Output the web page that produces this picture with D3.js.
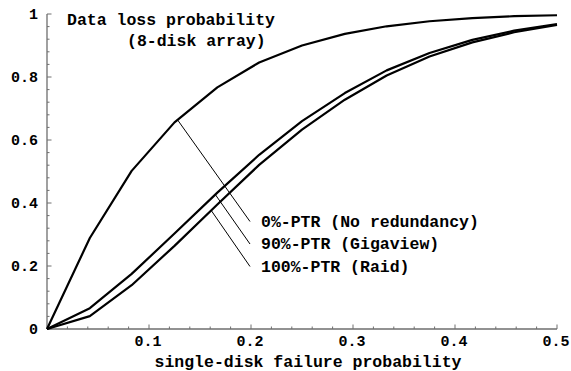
<!DOCTYPE html>
<html>
<head>
<meta charset="utf-8">
<script src="https://cdn.jsdelivr.net/npm/d3@7"></script>
<style>
  body { margin: 0; background: #fff; }
  svg text { font-family: "Liberation Mono", "Courier New", monospace; font-weight: bold; fill: #000; }
</style>
</head>
<body>
<script>
// single-disk failure probability (sample points)
var pValues = [0, 0.042, 0.083, 0.125, 0.167, 0.208, 0.25, 0.292, 0.333, 0.375, 0.417, 0.458, 0.5];

// data loss probability per curve
var noRedundancy = [0, 0.289, 0.502, 0.656, 0.767, 0.846, 0.900, 0.937, 0.961, 0.977, 0.987, 0.993, 0.996];
var gigaview     = [0, 0.066, 0.175, 0.303, 0.433, 0.553, 0.660, 0.749, 0.821, 0.876, 0.918, 0.947, 0.968];
var raid         = [0, 0.041, 0.139, 0.264, 0.395, 0.521, 0.633, 0.728, 0.805, 0.865, 0.910, 0.942, 0.965];

var seriesNames = ["0%-PTR (No redundancy)", "90%-PTR (Gigaview)", "100%-PTR (Raid)"];
// where each leader line touches its curve (x value)
var leaderAt = [0.128, 0.165, 0.161];

var xTicks = [0.1, 0.2, 0.3, 0.4, 0.5];
var yTicks = [0, 0.2, 0.4, 0.6, 0.8, 1];

var W = 571, H = 371;

var svg = d3.select("body").append("svg")
  .attr("width", W)
  .attr("height", H);

var x = d3.scaleLinear().domain([0, 0.5]).range([47, 557]);
var y = d3.scaleLinear().domain([0, 1]).range([329, 14]);

var axisColor = "#6e6e6e";

// x axis, ticks pointing up into the plot
var xMinor = d3.range(0, 0.5001, 0.02).filter(function(d){ return Math.abs(d*10 - Math.round(d*10)) > 1e-6; });

var gx = svg.append("g")
  .attr("class", "x axis")
  .attr("transform", "translate(0," + y(0) + ")");
gx.append("line")
  .attr("x1", x(0)).attr("x2", x(0.5))
  .attr("stroke", axisColor).attr("stroke-width", 1.3);
gx.selectAll(".minor").data(xMinor).enter().append("line")
  .attr("class", "minor")
  .attr("x1", function(d){ return x(d); }).attr("x2", function(d){ return x(d); })
  .attr("y1", 0).attr("y2", -2.5)
  .attr("stroke", axisColor);
gx.selectAll(".major").data(xTicks).enter().append("line")
  .attr("class", "major")
  .attr("x1", function(d){ return x(d); }).attr("x2", function(d){ return x(d); })
  .attr("y1", 0).attr("y2", -4.5)
  .attr("stroke", axisColor);
gx.selectAll("text").data(xTicks).enter().append("text")
  .attr("x", function(d){ return x(d) - 1; })
  .attr("y", 17)
  .attr("text-anchor", "middle")
  .style("font-size", "15px")
  .text(function(d){ return d3.format(".1f")(d); });

// y axis, ticks pointing right
var yMinor = d3.range(0, 1.0001, 0.04).filter(function(d){ return Math.abs(d*5 - Math.round(d*5)) > 1e-6; });

var gy = svg.append("g")
  .attr("class", "y axis")
  .attr("transform", "translate(" + x(0) + ",0)");
gy.append("line")
  .attr("y1", y(0)).attr("y2", y(1))
  .attr("stroke", axisColor).attr("stroke-width", 1.3);
gy.selectAll(".minor").data(yMinor).enter().append("line")
  .attr("class", "minor")
  .attr("y1", function(d){ return y(d); }).attr("y2", function(d){ return y(d); })
  .attr("x1", 0).attr("x2", 2.5)
  .attr("stroke", axisColor);
gy.selectAll(".major").data(yTicks).enter().append("line")
  .attr("class", "major")
  .attr("y1", function(d){ return y(d); }).attr("y2", function(d){ return y(d); })
  .attr("x1", 0).attr("x2", 4.5)
  .attr("stroke", axisColor);
gy.selectAll("text").data(yTicks).enter().append("text")
  .attr("x", -9)
  .attr("y", function(d){ return y(d); })
  .attr("dy", "0.32em")
  .attr("text-anchor", "end")
  .style("font-size", "15px")
  .text(function(d){ return d === 0 || d === 1 ? d : d3.format(".1f")(d); });

// curves
var series = [noRedundancy, gigaview, raid];
var line = d3.line()
  .x(function(d, i){ return x(pValues[i]); })
  .y(function(d){ return y(d); });

svg.selectAll(".curve").data(series).enter().append("path")
  .attr("class", "curve")
  .attr("d", line)
  .attr("fill", "none")
  .attr("stroke", "#000")
  .attr("stroke-width", 2.2)
  .attr("stroke-linejoin", "round");

// value of a curve at p, along its straight segments
function valueAt(vals, p) {
  var i = d3.bisectRight(pValues, p) - 1;
  i = Math.max(0, Math.min(i, pValues.length - 2));
  var t = (p - pValues[i]) / (pValues[i+1] - pValues[i]);
  return vals[i] + t * (vals[i+1] - vals[i]);
}

// labels with leader lines
var labelX = 261, labelBase = 226.5, labelStep = 22.5;

series.forEach(function(vals, k) {
  var ly = labelBase + k * labelStep;
  svg.append("line")
    .attr("x1", x(leaderAt[k]))
    .attr("y1", y(valueAt(vals, leaderAt[k])))
    .attr("x2", labelX - 11)
    .attr("y2", ly - 5)
    .attr("stroke", "#000")
    .attr("stroke-width", 1);
  svg.append("text")
    .attr("x", labelX)
    .attr("y", ly)
    .style("font-size", "16.5px")
    .text(seriesNames[k]);
});

// title
svg.append("text")
  .attr("x", 67).attr("y", 25)
  .style("font-size", "16.5px")
  .text("Data loss probability");
svg.append("text")
  .attr("x", 127).attr("y", 46)
  .style("font-size", "16.5px")
  .text("(8-disk array)");

// x axis title
svg.append("text")
  .attr("x", 308).attr("y", 367)
  .attr("text-anchor", "middle")
  .style("font-size", "16.5px")
  .text("single-disk failure probability");
</script>
</body>
</html>
